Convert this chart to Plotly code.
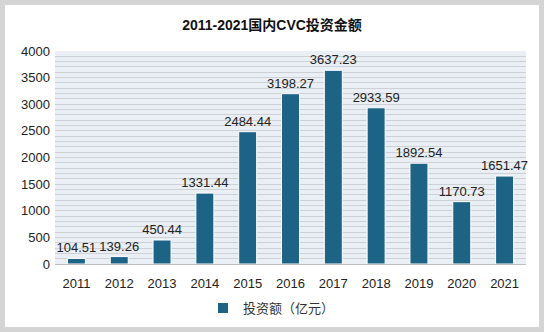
import plotly.graph_objects as go

years = ["2011", "2012", "2013", "2014", "2015", "2016", "2017", "2018", "2019", "2020", "2021"]
amounts = [104.51, 139.26, 450.44, 1331.44, 2484.44, 3198.27, 3637.23, 2933.59, 1892.54, 1170.73, 1651.47]
labels = [f"{v:.2f}" for v in amounts]
series_name = "投资额（亿元）"
title = "2011-2021国内CVC投资金额"

FONT = "Liberation Sans, Arial, Noto Sans CJK SC, sans-serif"

L, R, T, B = 55, 18, 51, 68
W, H = 544, 332
pw, ph = W - L - R, H - T - B

def px(x):
    return (x - L) / pw

def py(y):
    return (H - B - y) / ph

fig = go.Figure()
fig.add_trace(go.Bar(
    x=years, y=amounts, name=series_name,
    marker=dict(color="#1c6386", line=dict(color="#ffffff", width=1)),
    text=labels, textposition="outside", cliponaxis=False, constraintext="none",
    textfont=dict(family=FONT, size=13, color="#222222"),
    width=0.42, showlegend=True,
))

shapes = [
    dict(type="rect", xref="paper", yref="paper", x0=px(0), x1=px(W), y0=py(H), y1=py(0),
         fillcolor="#d4d4d4", line=dict(width=0), layer="below"),
    dict(type="rect", xref="paper", yref="paper", x0=px(5), x1=px(539), y0=py(327), y1=py(5),
         fillcolor="#ffffff", line=dict(width=0), layer="below"),
    dict(type="rect", xref="paper", yref="paper", x0=0, x1=1, y0=0, y1=1,
         fillcolor="#e9eff5", line=dict(width=0), layer="below"),
    dict(type="rect", xref="paper", yref="paper", x0=px(206), x1=px(329), y0=py(322), y1=py(296),
         fillcolor="#ececec", line=dict(width=0), layer="below"),
]

fig.update_layout(
    width=W, height=H,
    margin=dict(l=L, r=R, t=T, b=B, autoexpand=False),
    paper_bgcolor="#ffffff",
    plot_bgcolor="#e9eff5",
    title=dict(text=title, x=0.5, xanchor="center", y=1 - 25 / H, yanchor="middle",
               font=dict(family=FONT, size=14, color="#111111", weight="bold")),
    font=dict(family=FONT, size=13, color="#222222"),
    xaxis=dict(showgrid=False, showline=True, linecolor="#bfbfbf", ticks="",
               ticklabelstandoff=7, tickfont=dict(size=13, color="#222222")),
    yaxis=dict(range=[0, 4000], dtick=500, showgrid=True, gridcolor="#cdd1d6", gridwidth=1,
               zeroline=False, ticks="", ticklabelstandoff=4,
               tickfont=dict(size=13, color="#222222"),
               minor=dict(dtick=100, showgrid=True, gridcolor="#cdd1d6", gridwidth=1)),
    legend=dict(orientation="h", x=px(203), xanchor="left", y=py(293), yanchor="top",
                bgcolor="#ffffff", font=dict(size=13, color="#333333"),
                itemwidth=30, itemsizing="constant"),
    shapes=shapes,
    bargap=0.58,
)

fig.write_html("out.html")
